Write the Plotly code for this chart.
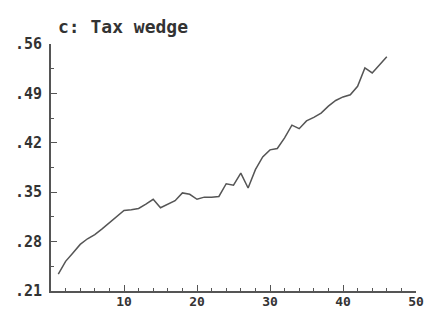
import plotly.graph_objects as go

years = list(range(1, 47))
tax_wedge = [0.234, 0.252, 0.264, 0.276, 0.284, 0.290, 0.298, 0.307, 0.316, 0.324,
             0.325, 0.327, 0.333, 0.340, 0.328, 0.333, 0.338, 0.349, 0.347, 0.340,
             0.343, 0.343, 0.344, 0.362, 0.360, 0.377, 0.356, 0.382, 0.400, 0.410,
             0.412, 0.427, 0.445, 0.440, 0.451, 0.456, 0.462, 0.472, 0.480, 0.485,
             0.488, 0.500, 0.526, 0.519, 0.530, 0.542]
y_ticks = [0.21, 0.28, 0.35, 0.42, 0.49, 0.56]
y_tick_labels = [".21", ".28", ".35", ".42", ".49", ".56"]
x_ticks = [10, 20, 30, 40, 50]
x_tick_labels = ["10", "20", "30", "40", "50"]
title = "c: Tax wedge"

axis_color = "#555555"
font = dict(family="DejaVu Sans Mono", size=15, color="#333333")
xfont = dict(family="DejaVu Sans Mono", size=13, color="#333333")

fig = go.Figure(go.Scatter(x=years, y=tax_wedge, mode="lines",
                           line=dict(color="#555555", width=1.5)))
fig.update_layout(
    width=425, height=309,
    margin=dict(l=51, r=9, t=44, b=18, autoexpand=False),
    paper_bgcolor="white", plot_bgcolor="white",
    showlegend=False,
    title=dict(text="<b>" + title + "</b>", x=58/425, xanchor="left", y=1-27/309, yanchor="middle",
               font=dict(family="DejaVu Sans Mono", size=18, color="#333333")),
    font=font,
)
fig.update_xaxes(range=[0, 50], tickvals=x_ticks, ticktext=["<b>%s</b>" % t for t in x_tick_labels],
                 automargin=False,
                 showgrid=False, zeroline=False, showline=True, linecolor=axis_color, linewidth=2,
                 ticks="inside", ticklen=6, tickwidth=1, tickcolor=axis_color,
                 ticklabeloverflow="allow", ticklabelstandoff=-3,
                 minor=dict(ticks="inside", dtick=2, tick0=0, ticklen=3, tickcolor=axis_color, showgrid=False),
                 tickfont=xfont)
fig.update_yaxes(range=[0.21, 0.56], tickvals=y_ticks, ticktext=["<b>%s</b>" % t for t in y_tick_labels],
                 automargin=False,
                 showgrid=False, zeroline=False, showline=True, linecolor=axis_color, linewidth=2,
                 ticks="inside", ticklen=6, tickwidth=1, tickcolor=axis_color,
                 ticklabelstandoff=4, ticklabeloverflow="allow",
                 minor=dict(ticks="inside", dtick=0.035, tick0=0.21, ticklen=3, tickcolor=axis_color, showgrid=False),
                 tickfont=font)
fig.write_html("out.html", config={"displayModeBar": False},
               post_script="document.body.style.margin='0';document.body.style.overflow='hidden';")
